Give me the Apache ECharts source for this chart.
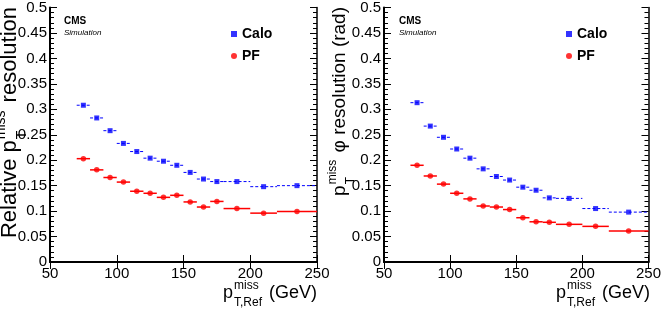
<!DOCTYPE html>
<html>
<head>
<meta charset="utf-8">
<script src="https://cdn.jsdelivr.net/npm/echarts@6/dist/echarts.min.js"></script>
<style>
  html, body { margin: 0; padding: 0; background: #fff; }
  #chart { width: 664px; height: 314px; }
</style>
</head>
<body>
<div id="chart"></div>
<script>
// bins of the reference pT (GeV)
var binLo = [70, 80, 90, 100, 110, 120, 130, 140, 150, 160, 170, 180, 200, 220];
var binHi = [80, 90, 100, 110, 120, 130, 140, 150, 160, 170, 180, 200, 220, 250];
var binCenter = [75, 85, 95, 105, 115, 125, 135, 145, 155, 165, 175, 190, 210, 235];

// left panel: relative resolution
var caloRel = [0.308, 0.283, 0.258, 0.233, 0.217, 0.204, 0.198, 0.190, 0.176, 0.163, 0.158, 0.158, 0.148, 0.150];
var pfRel = [0.203, 0.181, 0.166, 0.157, 0.139, 0.135, 0.127, 0.131, 0.118, 0.108, 0.119, 0.105, 0.096, 0.099];

// right panel: phi resolution (rad)
var caloPhi = [0.313, 0.267, 0.245, 0.222, 0.204, 0.183, 0.168, 0.161, 0.147, 0.141, 0.126, 0.125, 0.105, 0.098];
var pfPhi = [0.190, 0.169, 0.153, 0.135, 0.124, 0.110, 0.108, 0.103, 0.087, 0.079, 0.078, 0.074, 0.070, 0.061];

var FONT = '"Liberation Sans", Arial, sans-serif';
var BLUE = '#0000ff';
var RED = '#ff0000';

var chart = echarts.init(document.getElementById('chart'), null, { renderer: 'canvas' });

var ctx = document.createElement('canvas').getContext('2d');
function textW(t, size) {
    ctx.font = size + 'px ' + FONT;
    return ctx.measureText(t).width;
}

// builds "p_T^miss"-like text out of pieces [main, sup, sub]
function titleParts(parts, size, small) {
    var kids = [];
    var x = 0;
    parts.forEach(function (p) {
        if (p[0]) {
            kids.push({ type: 'text', x: x, y: 0, style: { text: p[0], font: size + 'px ' + FONT, fill: '#000', verticalAlign: 'middle' } });
            x += textW(p[0], size);
        }
        if (p[1] || p[2]) {
            x += 1;
            var w = 0;
            if (p[1]) {
                kids.push({ type: 'text', x: x, y: -size * 0.4, style: { text: p[1], font: small + 'px ' + FONT, fill: '#000', verticalAlign: 'middle' } });
                w = Math.max(w, textW(p[1], small));
            }
            if (p[2]) {
                kids.push({ type: 'text', x: x, y: size * 0.55, style: { text: p[2], font: small + 'px ' + FONT, fill: '#000', verticalAlign: 'middle' } });
                w = Math.max(w, textW(p[2], small));
            }
            x += w + 2;
        }
    });
    return { kids: kids, width: x };
}

function xTitle(rightX) {
    var t = titleParts([['p', 'miss', 'T,Ref'], [' (GeV)']], 18, 12);
    return { type: 'group', x: rightX - t.width, y: 293, children: t.kids };
}

function yTitle(cx, parts, size, small) {
    var t = titleParts(parts, size, small);
    return { type: 'group', x: cx, y: 7 + t.width, rotation: Math.PI / 2, children: t.kids };
}

function cmsLabel(x) {
    return [
        { type: 'text', x: x, y: 21, style: { text: 'CMS', font: 'bold 10px ' + FONT, fill: '#000', verticalAlign: 'middle' } },
        { type: 'text', x: x, y: 33, style: { text: 'Simulation', font: 'italic 8px ' + FONT, fill: '#000', verticalAlign: 'middle' } }
    ];
}

function xAxes(grid) {
    var base = {
        gridIndex: grid, type: 'value', min: 50, max: 250, interval: 50,
        splitLine: { show: false },
        axisTick: { inside: true, length: 7, lineStyle: { color: '#000', width: 1 } }
    };
    return [
        Object.assign({}, base, {
            position: 'bottom',
            axisLine: { lineStyle: { color: '#000', width: 2 } },
            axisLabel: { color: '#000', fontSize: 15, fontFamily: FONT, margin: 4, showMinLabel: true, showMaxLabel: true }
        }),
        Object.assign({}, base, {
            position: 'top',
            axisLine: { lineStyle: { color: '#000', width: 1.5 } },
            axisLabel: { show: false }
        })
    ];
}

function yAxes(grid) {
    var base = {
        gridIndex: grid, type: 'value', min: 0, max: 0.5, interval: 0.05,
        splitLine: { show: false },
        axisTick: { inside: true, length: 7, lineStyle: { color: '#000', width: 1 } },
        minorTick: { show: true, splitNumber: 5, length: 4, lineStyle: { color: '#000', width: 1 } }
    };
    return [
        Object.assign({}, base, {
            position: 'left',
            axisLine: { show: true, lineStyle: { color: '#000', width: 2 } },
            axisLabel: {
                color: '#000', fontSize: 15, fontFamily: FONT, margin: 3,
                formatter: function (v) { return String(+v.toFixed(2)); }
            }
        }),
        Object.assign({}, base, {
            position: 'right',
            axisLine: { show: true, lineStyle: { color: '#000', width: 1.5 } },
            axisLabel: { show: false }
        })
    ];
}

function binBars(name, vals, color, dash, xi, yi) {
    var data = vals.map(function (v, i) { return [binLo[i], binHi[i], v]; });
    return {
        name: name, type: 'custom', xAxisIndex: xi, yAxisIndex: yi, silent: true, z: 2,
        data: data,
        renderItem: function (params, api) {
            var a = api.coord([api.value(0), api.value(2)]);
            var b = api.coord([api.value(1), api.value(2)]);
            return {
                type: 'line',
                shape: { x1: a[0], y1: a[1], x2: b[0], y2: b[1] },
                style: { stroke: color, lineWidth: dash ? 1 : 1.5, lineDash: dash ? [3, 2] : null }
            };
        }
    };
}

function markers(name, vals, color, symbol, xi, yi) {
    return {
        name: name, type: 'scatter', xAxisIndex: xi, yAxisIndex: yi, z: 3,
        symbol: symbol, symbolSize: symbol === 'rect' ? 5 : 5.5,
        itemStyle: { color: color },
        data: vals.map(function (v, i) { return [binCenter[i], v]; })
    };
}

function legend(left) {
    return {
        left: left, top: 27, orient: 'vertical', padding: 0,
        itemWidth: 6, itemHeight: 6, itemGap: 8, selectedMode: false,
        textStyle: { color: '#000', fontSize: 14, fontWeight: 'bold', fontFamily: FONT, lineHeight: 14 },
        data: [{ name: 'Calo', icon: 'rect' }, { name: 'PF', icon: 'circle' }]
    };
}

var option = {
    animation: false,
    backgroundColor: '#fff',
    grid: [
        { left: 50, right: 347, top: 6, bottom: 52 },
        { left: 384, right: 13, top: 6, bottom: 52 }
    ],
    xAxis: xAxes(0).concat(xAxes(1)),
    yAxis: yAxes(0).concat(yAxes(1)),
    legend: [legend(231), legend(566)],
    series: [
        binBars('Calo bins', caloRel, BLUE, true, 0, 0),
        binBars('PF bins', pfRel, RED, false, 0, 0),
        markers('Calo', caloRel, BLUE, 'rect', 0, 0),
        markers('PF', pfRel, RED, 'circle', 0, 0),
        binBars('Calo bins', caloPhi, BLUE, true, 2, 2),
        binBars('PF bins', pfPhi, RED, false, 2, 2),
        markers('Calo', caloPhi, BLUE, 'rect', 2, 2),
        markers('PF', pfPhi, RED, 'circle', 2, 2)
    ],
    graphic: [
        yTitle(10, [['Relative p', 'miss', 'T'], [' resolution']], 22, 14),
        yTitle(340, [['p', 'miss', 'T'], [' \u03c6 resolution (rad)']], 19, 12),
        xTitle(317),
        xTitle(650)
    ].concat(cmsLabel(64), cmsLabel(399))
};

chart.setOption(option);
</script>
</body>
</html>
